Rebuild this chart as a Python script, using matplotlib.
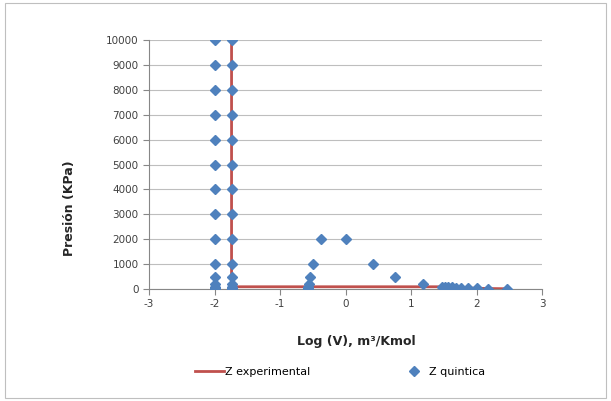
import matplotlib.pyplot as plt
import numpy as np
from matplotlib.patches import Rectangle

plt.rcParams['axes.unicode_minus'] = False

# Z quintica (log V vs pressure)
P_col = [10000, 9000, 8000, 7000, 6000, 5000, 4000, 3000, 2000, 1000, 500, 200, 100, 50, 10]
xq1 = [-2.0] * len(P_col)
xq2 = [-1.74] * len(P_col)
xq3 = [-0.38, 0.0, -0.50, 0.42, -0.54, 0.75, 1.18]
Pq3 = [2000, 2000, 1000, 1000, 500, 500, 200]
xq4 = [-0.56, -0.57, -0.57, -0.57]
Pq4 = [200, 100, 50, 10]
xq5 = [1.47, 1.52, 1.57, 1.63, 1.69, 1.77, 1.87, 2.0, 2.17, 2.47]
Pq5 = [100, 90, 80, 70, 60, 50, 40, 30, 20, 10]

xq = xq1 + xq2 + xq3 + xq4 + xq5
Pq = P_col + P_col + Pq3 + Pq4 + Pq5

# Z experimental
xe = [-1.74, -1.74, 1.47, 1.52, 1.57, 1.63, 1.69, 1.77, 1.87, 2.0, 2.17, 2.47]
Pe = [10000, 90, 90, 85, 80, 70, 60, 50, 40, 30, 20, 10]

blue = '#4F81BD'
red = '#C0504D'
grey = '#878787'

fig = plt.figure(figsize=(6.11, 4.01), dpi=100)
fig.patches.append(Rectangle((0.008, 0.008), 0.984, 0.984, transform=fig.transFigure,
                             fill=False, edgecolor='#BFBFBF', lw=0.8))
ax = fig.add_axes([0.2439, 0.2793, 0.6432, 0.6209])

ax.plot(xe, Pe, '-', color=red, lw=2, label='Z experimental', zorder=2)
ax.plot(xq, Pq, 'D', color=blue, ms=5.5, ls='none', label='Z quintica', zorder=3)

ax.set_xlim(-3, 3)
ax.set_ylim(0, 10000)
ax.set_xticks(np.arange(-3, 4, 1))
ax.set_yticks(np.arange(0, 10001, 1000))
ax.yaxis.grid(True, color='#BEBEBE', lw=0.8)
ax.set_axisbelow(True)
for s in ['top', 'right']:
    ax.spines[s].set_visible(False)
for s in ['left', 'bottom']:
    ax.spines[s].set_color(grey)
ax.tick_params(colors=grey, labelcolor='#404040', labelsize=7.5, length=4, direction='out')

fig.text(356 / 611, 1 - 342 / 401, 'Log (V), m³/Kmol', fontsize=9, fontweight='bold',
         color='#262626', ha='center', va='center')
fig.text(70 / 611, 1 - 208 / 401, 'Presión (KPa)', fontsize=9, fontweight='bold',
         color='#262626', ha='center', va='center', rotation=90)

fig.legend(loc='center', bbox_to_anchor=(0.557, 0.072), ncol=2, frameon=False,
           fontsize=8, columnspacing=8, handlelength=2.6, handletextpad=0.1)

plt.savefig('out.png', dpi=100)
